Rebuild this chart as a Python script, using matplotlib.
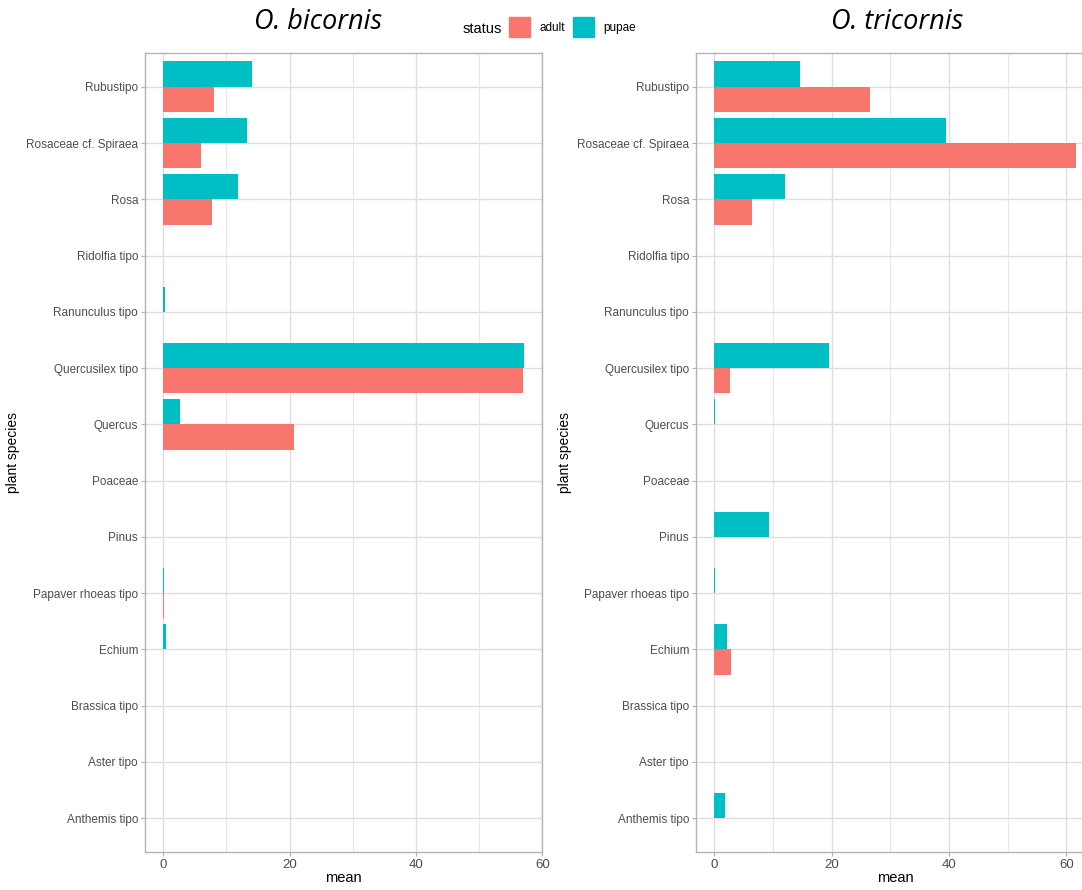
import matplotlib
matplotlib.use("Agg")
import matplotlib.pyplot as plt
from matplotlib.patches import Rectangle
import numpy as np

# categories, bottom to top
species = ["Anthemis tipo", "Aster tipo", "Brassica tipo", "Echium",
           "Papaver rhoeas tipo", "Pinus", "Poaceae", "Quercus",
           "Quercusilex tipo", "Ranunculus tipo", "Ridolfia tipo", "Rosa",
           "Rosaceae cf. Spiraea", "Rubustipo"]

bicornis_adult = [0, 0, 0, 0, 0.15, 0, 0, 20.7, 56.9, 0, 0, 7.7, 6.0, 8.0]
bicornis_pupae = [0, 0, 0, 0.4, 0.15, 0, 0, 2.7, 57.1, 0.3, 0, 11.8, 13.2, 14.1]
tricornis_adult = [0, 0, 0, 2.8, 0, 0, 0, 0, 2.7, 0, 0, 6.4, 61.6, 26.5]
tricornis_pupae = [1.8, 0, 0, 2.2, 0.2, 9.4, 0, 0.2, 19.5, 0, 0, 12.0, 39.5, 14.65]

xticks = [0, 20, 40, 60]
status = ["adult", "pupae"]
c_adult = "#F8766D"
c_pupae = "#00BFC4"

plt.rcParams["font.family"] = ["Liberation Sans", "DejaVu Sans"]

W, H = 1082, 890
fig = plt.figure(figsize=(W / 100, H / 100), dpi=100)

def panel(left_px, right_px, xlim, adult, pupae, title, title_x):
    bottom = 1 - 852 / H
    height = (852 - 53) / H
    ax = fig.add_axes([left_px / W, bottom, (right_px - left_px) / W, height])
    y = np.arange(1, len(species) + 1)
    w = 0.45
    ax.barh(y - w / 2, adult, height=w, color=c_adult, zorder=3)
    ax.barh(y + w / 2, pupae, height=w, color=c_pupae, zorder=3)
    ax.set_xlim(*xlim)
    ax.set_ylim(0.4, len(species) + 0.6)
    ax.set_yticks(y)
    ax.set_yticklabels(species)
    ax.set_xticks(xticks)
    ax.set_xticks([10, 30, 50], minor=True)
    ax.grid(True, which="major", color="#dedede", linewidth=1.0, zorder=0)
    ax.grid(True, which="minor", axis="x", color="#e8e8e8", linewidth=0.8, zorder=0)
    ax.set_axisbelow(True)
    for s in ax.spines.values():
        s.set_color("#b3b3b3")
        s.set_linewidth(1.0)
    ax.tick_params(axis="both", which="major", length=3, color="#b3b3b3",
                   labelcolor="#4d4d4d", pad=2)
    ax.tick_params(axis="y", labelsize=8.5)
    ax.tick_params(axis="x", labelsize=9.5)
    ax.tick_params(axis="x", which="minor", length=0)
    ax.set_xlabel("mean", fontsize=10.5, color="black", labelpad=0)
    ax.set_ylabel("plant species", fontsize=10, color="black", labelpad=4)
    fig.text(title_x / W, 1 - 22 / H, title, fontsize=19.5, style="italic",
             ha="center", va="center", family=["Open Sans", "DejaVu Sans"])
    return ax

ax1 = panel(145, 542.3, (-2.9, 60.0), bicornis_adult, bicornis_pupae,
            "O. bicornis", 318)
ax2 = panel(696, 1094, (-3.1, 64.7), tricornis_adult, tricornis_pupae,
            "O. tricornis", 897)

# legend at top centre
fig.text(463 / W, 1 - 29 / H, "status", fontsize=10.5, va="center", ha="left")
for x0, col, lab in [(509, c_adult, status[0]), (573, c_pupae, status[1])]:
    fig.patches.append(Rectangle((x0 / W, 1 - 37 / H), 21 / W, 20 / H,
                                 transform=fig.transFigure, color=col))
    fig.text((x0 + 30) / W, 1 - 28 / H, lab, fontsize=8.5, va="center", ha="left")

fig.savefig("out.png", dpi=100)
